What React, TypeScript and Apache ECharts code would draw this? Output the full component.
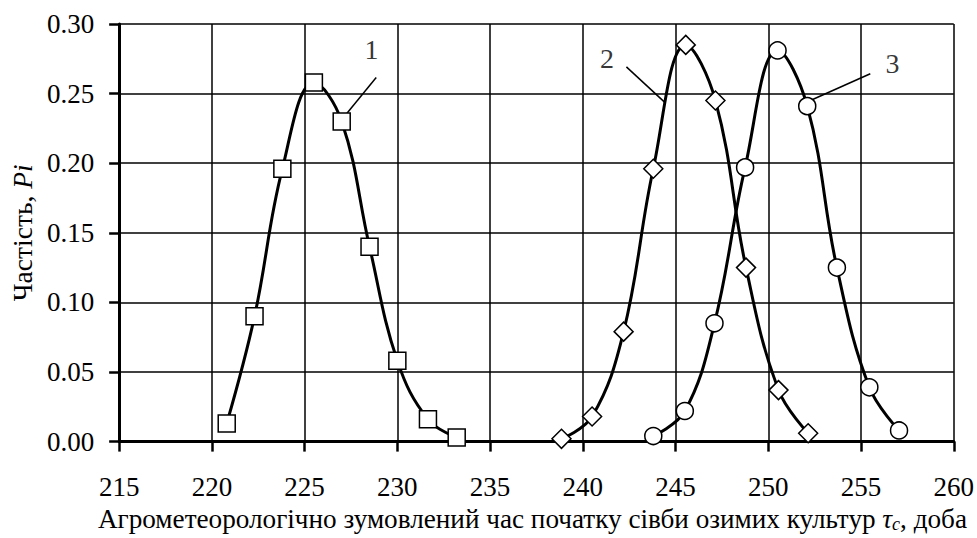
import React, { useEffect, useRef } from "react";
import * as echarts from "echarts";

// Series 1 (squares)
const s1x = [220.8, 222.3, 223.8, 225.5, 227.0, 228.5, 230.0, 231.65, 233.2];
const s1y = [0.013, 0.09, 0.196, 0.258, 0.23, 0.14, 0.058, 0.016, 0.003];
// Series 2 (diamonds)
const s2x = [238.85, 240.5, 242.2, 243.8, 245.55, 247.15, 248.8, 250.55, 252.15];
const s2y = [0.002, 0.018, 0.079, 0.196, 0.285, 0.245, 0.125, 0.037, 0.006];
// Series 3 (circles)
const s3x = [243.8, 245.5, 247.1, 248.75, 250.5, 252.1, 253.7, 255.45, 257.05];
const s3y = [0.004, 0.022, 0.085, 0.197, 0.281, 0.241, 0.125, 0.039, 0.008];

// Curve labels and leader lines (data coordinates)
const labelNames = ["1", "2", "3"];
const labelPos = [
  [228.6, 0.282],
  [241.3, 0.275],
  [256.7, 0.2715],
];
const leaderStart = [
  [228.86, 0.2616],
  [242.35, 0.2692],
  [255.5, 0.2643],
];
const leaderEnd = [
  [227.03, 0.2317],
  [244.42, 0.2437],
  [252.3, 0.2452],
];

const xMin = 215;
const xMax = 260;
const xStep = 5;
const yMin = 0;
const yMax = 0.3;
const yStep = 0.05;

const FONT = "'Liberation Serif', 'Times New Roman', serif";

function pairs(xs: number[], ys: number[]) {
  return xs.map((x, i) => [x, ys[i]]);
}

export default function App() {
  const ref = useRef<HTMLDivElement>(null);
  useEffect(() => {
    document.body.style.margin = "0";
    document.body.style.overflow = "hidden";
    const chart = echarts.init(ref.current!, undefined, { renderer: "svg" });
    const lineSeries = (data: number[][], symbol: string, size: number) => ({
      type: "line",
      data,
      smooth: 0.4,
      symbol,
      symbolSize: size,
      showAllSymbol: true,
      lineStyle: { color: "#000", width: 3 },
      itemStyle: { color: "#fff", borderColor: "#000", borderWidth: 1.5 },
      z: 3,
    });
    const leaders = labelNames.map((_, i) => ({
      type: "line",
      data: [leaderStart[i], leaderEnd[i]],
      symbol: "none",
      silent: true,
      lineStyle: { color: "#000", width: 1.5 },
      z: 2,
    }));
    const option: any = {
      animation: false,
      backgroundColor: "#fff",
      textStyle: { fontFamily: FONT, color: "#000" },
      grid: { left: 110, right: 23, top: 24, bottom: 89.5, containLabel: false },
      xAxis: {
        type: "value",
        min: xMin,
        max: xMax,
        interval: xStep,
        axisLine: { show: true, lineStyle: { color: "#000", width: 3 } },
        axisTick: { show: true, length: 10, lineStyle: { color: "#000", width: 2.5 } },
        axisLabel: { color: "#000", fontSize: 27, fontFamily: FONT, margin: 32 },
        splitLine: { show: true, lineStyle: { color: "#000", width: 1.5 } },
        name: "Агрометеорологічно зумовлений час початку сівби озимих культур {t|τ}{s|c}, доба",
        nameLocation: "middle",
        nameGap: 56,
        nameTextStyle: {
          color: "#000",
          fontSize: 27.2,
          fontFamily: FONT,
          padding: [0, 8, 0, 0],
          rich: {
            t: { fontSize: 27.2, fontStyle: "italic", fontFamily: FONT, color: "#000" },
            s: {
              fontSize: 18,
              fontStyle: "italic",
              fontFamily: FONT,
              color: "#000",
              verticalAlign: "bottom",
              padding: [10, 0, 0, 0],
            },
          },
        },
      },
      yAxis: {
        type: "value",
        min: yMin,
        max: yMax,
        interval: yStep,
        axisLine: { show: true, lineStyle: { color: "#000", width: 3 } },
        axisTick: { show: true, length: 10, lineStyle: { color: "#000", width: 2.5 } },
        axisLabel: {
          color: "#000",
          fontSize: 27,
          fontFamily: FONT,
          margin: 25,
          formatter: (v: number) => v.toFixed(2),
        },
        splitLine: { show: true, lineStyle: { color: "#000", width: 1.5 } },
        name: "Частість, {i|Pi}",
        nameLocation: "middle",
        nameGap: 76,
        nameTextStyle: {
          color: "#000",
          fontSize: 27.5,
          fontFamily: FONT,
          rich: {
            i: { fontSize: 27.5, fontStyle: "italic", fontFamily: FONT, color: "#000" },
          },
        },
      },
      series: [
        ...leaders,
        lineSeries(pairs(s1x, s1y), "rect", 17),
        lineSeries(pairs(s2x, s2y), "diamond", 19),
        lineSeries(pairs(s3x, s3y), "circle", 17),
        {
          type: "scatter",
          data: labelPos.map((p, i) => ({ value: p, name: labelNames[i] })),
          symbolSize: 1,
          itemStyle: { color: "rgba(0,0,0,0)" },
          silent: true,
          label: {
            show: true,
            position: "inside",
            formatter: (p: any) => p.name,
            fontSize: 28,
            fontFamily: FONT,
            color: "#000",
          },
          z: 4,
        },
      ],
    };
    chart.setOption(option);
    return () => chart.dispose();
  }, []);
  return (
    <div
      ref={ref}
      style={{
        position: "fixed",
        left: 0,
        top: 0,
        width: 977,
        height: 538,
        overflow: "hidden",
        background: "#fff",
      }}
    />
  );
}
